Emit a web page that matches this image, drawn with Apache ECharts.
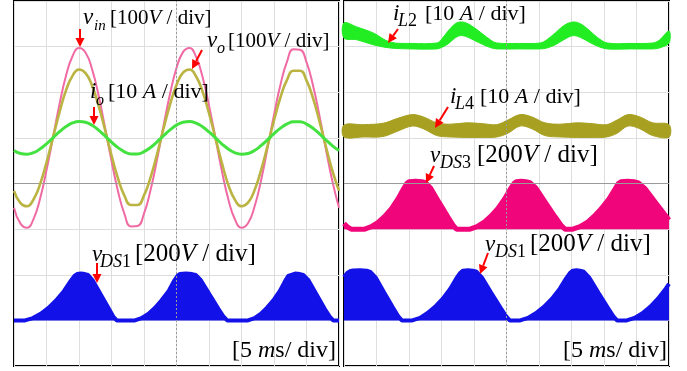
<!DOCTYPE html>
<html><head><meta charset="utf-8">
<script src="https://cdn.jsdelivr.net/npm/echarts@6/dist/echarts.min.js"></script>
<style>html,body{margin:0;padding:0;background:#fff}#c{width:687px;height:371px}</style>
</head><body><div id="c"></div>
<script>
// time in ms (5 ms/div, 10 divisions)
const T_SINE = [0,1,2,3,4,5,6,7,8,9,10,11,12,13,14,15,16,17,18,19,20,21,22,23,24,25,26,27,28,29,30,31,32,33,34,35,36,37,38,39,40,41,42,43,44,45,46,47,48,49,50];
// v_in [V]
const VIN = [-153,-188,-197,-178,-134,-71,1,74,136,179,197,187,151,94,23,-50,-117,-167,-194,-193,-166,-115,-48,26,96,153,188,197,178,134,71,-1,-74,-136,-179,-197,-187,-151,-94,-23,50,117,167,194,193,166,115,48,-26,-96,-153];
// v_o [V]
const VO = [-116,-143,-150,-135,-102,-54,1,56,104,136,150,142,115,71,18,-38,-89,-127,-147,-147,-126,-87,-36,20,73,116,143,150,135,102,54,-1,-56,-104,-136,-150,-142,-115,-71,-18,38,89,127,147,147,126,87,36,-20,-73,-116];
// i_o [A]
const IO = [-2.79,-3.43,-3.59,-3.25,-2.45,-1.30,0.02,1.35,2.48,3.27,3.59,3.42,2.76,1.71,0.43,-0.92,-2.13,-3.05,-3.54,-3.53,-3.03,-2.10,-0.87,0.47,1.75,2.79,3.43,3.59,3.25,2.45,1.30,-0.02,-1.35,-2.48,-3.27,-3.59,-3.42,-2.76,-1.71,-0.43,0.92,2.13,3.05,3.54,3.53,3.03,2.10,0.87,-0.47,-1.75,-2.79];
// v_DS1 (left panel) [V]
const T_DS1L = [0,1.7,2.9,4.1,5.3,6.5,7.7,8.7,9.3,9.7,10.3,10.9,11.4,12.1,13.35,14.6,15.3,15.8,18.6,19.6,20.7,21.7,22.7,23.8,24.6,25.15,25.5,26.45,27.4,27.95,28.75,30.1,31.45,32.25,32.8,36.0,37.0,38.0,38.9,39.9,40.9,41.7,42.2,42.5,43.25,44.0,44.5,45.3,46.55,47.8,48.6,49.1,50];
const DS1L = [0,0,10,29,55,88,129,172,195,203,205,203,199,176,113,51,16,0,0,10,29,55,88,129,172,195,203,205,203,199,176,113,51,16,0,0,10,29,55,88,129,172,195,203,205,203,199,176,113,51,16,0,0];
// i_L2 envelope [A]
const T_IL2 = [0,2.0,4.5,7.1,10.5,14.3,15.0,16.0,17.0,17.8,18.8,20.0,21.3,22.5,23.5,27.0,30.2,31.2,32.5,33.8,35.2,36.4,37.7,39.0,40.5,44.0,47.5,48.5,50];
const IL2_LO = [1.9,1.5,0.4,-0.3,-0.5,-0.5,-0.2,0.6,1.8,2.4,2.2,1.4,0.5,-0.2,-0.5,-0.5,-0.5,-0.3,0.4,1.5,2.4,2.0,1.0,0.1,-0.5,-0.5,-0.5,-0.3,0.8];
const IL2_UP = [5.2,4.3,3.0,1.0,0.7,0.8,1.6,3.4,4.9,5.4,5.2,4.2,2.8,1.5,0.8,0.7,0.8,1.5,3.0,4.6,5.4,5.0,3.6,2.0,0.8,0.7,0.8,1.4,3.4];
// i_L4 envelope [A]
const T_IL4 = [0,3.0,6.0,8.3,10.5,12.2,14.3,16.3,18.9,21.4,23.5,25.2,27.1,28.9,30.9,33.2,35.8,38.3,40.4,42.0,43.7,45.5,47.5,50];
const IL4_LO = [0.2,0.2,0.3,1.5,2.6,2.0,0.5,0.2,0.1,0.1,0.2,1.0,2.6,2.0,0.5,0.2,0.1,0.1,0.2,1.0,2.6,2.0,0.5,0.2];
const IL4_UP = [2.8,2.9,3.2,4.3,5.1,4.6,3.3,3.0,3.3,3.1,2.9,3.9,5.1,4.6,3.3,3.0,3.3,3.1,2.9,3.9,5.1,4.6,3.3,2.9];
// v_DS3 [V]
const T_DS3 = [0,0.6,1.1,3.2,4.2,5.2,6.3,7.3,8.3,9.15,9.65,10.0,11.0,12.0,12.55,13.3,14.65,16.0,16.8,17.3,19.4,20.45,21.5,22.6,23.65,24.7,25.6,26.15,26.5,27.25,28.0,28.6,29.5,31.0,32.5,33.4,34.0,35.2,36.3,37.4,38.5,39.6,40.75,41.7,42.2,42.6,43.6,44.6,45.3,46.3,48.1,50];
const DS3 = [25,8,0,0,11,29,57,90,132,176,200,208,210,208,204,181,116,53,17,0,0,11,29,57,90,132,176,200,208,210,208,204,181,116,53,17,0,0,11,29,57,90,132,176,200,208,210,208,203,178,110,40];
// v_DS1 (right panel) [V]
const T_DS1R = [0,0.5,1.0,1.4,2.45,3.5,4.05,4.85,6.2,7.55,8.35,8.9,10.5,11.7,12.8,14.0,15.2,16.35,17.3,17.9,18.3,19.05,19.8,20.4,21.2,22.65,24.1,24.95,25.5,27.1,28.3,29.5,30.75,32.0,33.2,34.2,34.8,35.2,35.75,36.3,36.9,37.7,39.15,40.6,41.45,42.0,43.5,44.7,45.9,47.1,48.3,49.5,50];
const DS1R = [190,208,217,219,220,218,213,189,121,55,18,0,0,11,31,59,95,139,185,209,218,220,218,213,189,121,55,18,0,0,11,31,59,95,139,185,209,218,220,218,213,189,121,55,18,0,0,11,31,59,95,139,160];

const zip = (t, v) => t.map((x, i) => [x, v[i]]);
const zip3 = (t, a, b) => t.map((x, i) => [x, a[i], b[i]]);

const FONT = 'Liberation Serif';
const chart = echarts.init(document.getElementById('c'), null, {renderer: 'canvas'});

const gridLine = {show: true, lineStyle: {color: '#dedede', width: 1}};
function xAx(g) {
  return {type: 'value', gridIndex: g, min: 0, max: 50, interval: 5,
    axisLine: {show: false}, axisTick: {show: false}, axisLabel: {show: false}, splitLine: gridLine};
}
function baseY(g) {
  return {type: 'value', gridIndex: g, min: -4, max: 4, interval: 1,
    axisLine: {show: false}, axisTick: {show: false}, axisLabel: {show: false}, splitLine: gridLine};
}
// channel axis: zero level at 'off' divisions, 'scale' units per division
function chY(g, off, scale) {
  return {type: 'value', gridIndex: g, min: (-4 - off) * scale, max: (4 - off) * scale, show: false};
}

const centerMark = {
  silent: true, symbol: 'none', label: {show: false},
  data: [
    {xAxis: 25, lineStyle: {color: '#9a9a9a', width: 1, type: [2, 2]}},
    {yAxis: 0, lineStyle: {color: '#9a9a9a', width: 1, type: 'solid'}}
  ]
};

function lineS(name, xi, yi, data, color, w, z) {
  return {name, type: 'line', xAxisIndex: xi, yAxisIndex: yi, data, showSymbol: false,
    smooth: 0.5, lineStyle: {color, width: w}, z, animation: false};
}
function humpS(name, xi, yi, data, color, w) {
  return {name, type: 'line', xAxisIndex: xi, yAxisIndex: yi, data, showSymbol: false,
    smooth: false, lineStyle: {color, width: w}, areaStyle: {color, opacity: 1}, z: 2, animation: false};
}
// ripple band between a lower and an upper envelope
function bandS(name, xi, yi, rows, color) {
  return {
    name, type: 'custom', xAxisIndex: xi, yAxisIndex: yi, data: rows, z: 3,
    encode: {x: 0, y: [1, 2]}, animation: false, silent: true,
    renderItem: function (params, api) {
      if (params.dataIndex !== 0) return null;
      const upper = rows.map(r => api.coord([r[0], r[2]]));
      const lower = rows.map(r => api.coord([r[0], r[1]])).reverse();
      return {
        type: 'polygon',
        shape: {points: upper.concat(lower), smooth: 0.35},
        style: {fill: color, stroke: color, lineWidth: 1}
      };
    }
  };
}

function richFor(size) {
  return {
    n: {fontFamily: FONT, fontSize: size, color: '#000'},
    i: {fontFamily: FONT, fontStyle: 'italic', fontSize: size, color: '#000'}
  };
}
// label = italic symbol + subscript + "[scale / div]"
function label(x, bl, base, xs, sbl, ss, sub, xr, rs, rest) {
  const K = 0.34;
  return [
    {type: 'text', x, y: bl - K * 23, z: 100,
      style: {text: base, fontFamily: FONT, fontStyle: 'italic', fontSize: 23, fill: '#000', align: 'left', verticalAlign: 'middle'}},
    {type: 'text', x: xs, y: sbl - K * ss, z: 100,
      style: {text: sub, rich: richFor(ss), fontFamily: FONT, fontSize: ss, align: 'left', verticalAlign: 'middle'}},
    {type: 'text', x: xr, y: bl - K * rs, z: 100,
      style: {text: rest, rich: richFor(rs), fontFamily: FONT, fontSize: rs, align: 'left', verticalAlign: 'middle'}}
  ];
}
function plain(x, bl, rs, text) {
  return {type: 'text', x, y: bl - 0.34 * rs, z: 100,
    style: {text, rich: richFor(rs), fontFamily: FONT, fontSize: rs, align: 'left', verticalAlign: 'middle'}};
}
function arrow(x1, y1, x2, y2) {
  const dx = x2 - x1, dy = y2 - y1, L = Math.hypot(dx, dy);
  const ux = dx / L, uy = dy / L, hl = 9, hw = 4.5;
  const bx = x2 - ux * hl, by = y2 - uy * hl;
  return [
    {type: 'line', z: 100, shape: {x1, y1, x2: bx, y2: by}, style: {stroke: '#ff0000', lineWidth: 2}},
    {type: 'polygon', z: 100, shape: {points: [[x2, y2], [bx - uy * hw, by + ux * hw], [bx + uy * hw, by - ux * hw]]}, style: {fill: '#ff0000'}}
  ];
}

const option = {
  backgroundColor: '#fff',
  animation: false,
  grid: [
    {left: 14, top: 1, width: 325, height: 365, show: true, borderColor: '#000', borderWidth: 2},
    {left: 344, top: 1, width: 325, height: 365, show: true, borderColor: '#000', borderWidth: 2}
  ],
  xAxis: [xAx(0), xAx(1)],
  yAxis: [
    baseY(0), chY(0, 1, 100), chY(0, 1, 10), chY(0, -3, 200),
    baseY(1), chY(1, 3, 10), chY(1, 1, 10), chY(1, -1, 200), chY(1, -3, 200)
  ],
  series: [
    {type: 'line', xAxisIndex: 0, yAxisIndex: 0, data: [], markLine: centerMark, z: 1},
    {type: 'line', xAxisIndex: 1, yAxisIndex: 4, data: [], markLine: centerMark, z: 1},
    humpS('vDS1L', 0, 3, zip(T_DS1L, DS1L), '#1212e8', 4),
    lineS('vin', 0, 1, zip(T_SINE, VIN), '#f06aa4', 2, 4),
    lineS('vo', 0, 1, zip(T_SINE, VO), '#bbb443', 2.6, 5),
    lineS('io', 0, 2, zip(T_SINE, IO), '#44e240', 3, 6),
    bandS('iL2', 1, 5, zip3(T_IL2, IL2_LO, IL2_UP), '#22ec22'),
    bandS('iL4', 1, 6, zip3(T_IL4, IL4_LO, IL4_UP), '#a8a020'),
    humpS('vDS3', 1, 7, zip(T_DS3, DS3), '#f0067a', 5),
    humpS('vDS1R', 1, 8, zip(T_DS1R, DS1R), '#1212e8', 4)
  ],
  graphic: [
    ...label(83, 26, 'v', 94, 31, 15, '{i|in}', 110, 21, '{n|[100}{i|V}{n| / div]}'),
    ...label(207, 49, 'v', 217, 54, 16, '{i|o}', 228, 21, '{n|[100}{i|V}{n| / div]}'),
    ...label(90, 100, 'i', 96, 106, 16, '{i|o}', 108, 22, '{n|[10 }{i|A}{n| / div]}'),
    ...label(92, 263, 'v', 100, 268, 18, '{i|DS}{n|1}', 135, 25, '{n|[200}{i|V}{n| / div]}'),
    ...label(393, 22, 'i', 398, 27, 18, '{i|L}{n|2}', 425, 22, '{n|[10 }{i|A}{n| / div]}'),
    ...label(450, 105, 'i', 455, 110, 18, '{i|L}{n|4}', 480, 22, '{n|[10 }{i|A}{n| / div]}'),
    ...label(430, 164, 'v', 440, 169, 18, '{i|DS}{n|3}', 477, 25, '{n|[200}{i|V}{n| / div]}'),
    ...label(485, 253, 'v', 495, 258, 18, '{i|DS}{n|1}', 530, 25, '{n|[200}{i|V}{n| / div]}'),
    plain(232, 359, 24, '{n|[5 }{i|m}{n|s/ div]}'),
    plain(563, 359, 24, '{n|[5 }{i|m}{n|s/ div]}'),
    ...arrow(80, 29, 80, 47),
    ...arrow(202, 50, 192, 69),
    ...arrow(94, 107, 94, 125),
    ...arrow(97, 263, 97, 283),
    ...arrow(398, 29, 388, 43),
    ...arrow(448, 107, 435, 128),
    ...arrow(434, 166, 426, 183),
    ...arrow(488, 253, 480, 274)
  ]
};
chart.setOption(option);
</script></body></html>
